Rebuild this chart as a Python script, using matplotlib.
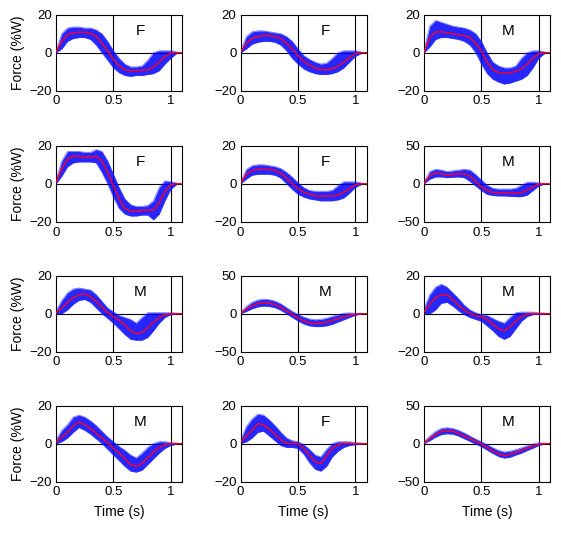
import numpy as np
import matplotlib
matplotlib.use("Agg")
import matplotlib.pyplot as plt

plt.rcParams['font.family'] = ['Liberation Sans', 'DejaVu Sans']

# time grids
t_mean = np.round(np.arange(0, 1.101, 0.05), 2)   # red mean curve, 0 .. 1.1
t_band = t_mean[:-1]                             # blue trace bundle, 0 .. 1.05

# panel layout (row by row)
sex_labels = ['F', 'F', 'M',
              'F', 'F', 'M',
              'M', 'M', 'M',
              'M', 'F', 'M']
y_limits = [20, 20, 20,
            20, 20, 50,
            20, 50, 20,
            20, 20, 50]

# mean curves (red)
mean_1 = [0.5, 6, 9.5, 10.5, 10.8, 10.8, 10.3, 8.5, 5, 1, -3.5, -7, -9, -9.5, -9.5, -9.3, -9, -7.5, -5, -2, -0.3, 0, 0]
mean_2 = [0.5, 5, 7.5, 8.5, 9, 9, 8.5, 7.5, 5, 2, -1.5, -4.5, -6.5, -8, -9, -9, -8.5, -7, -5, -2.5, -0.5, 0, 0]
mean_3 = [0.5, 8, 11, 11, 10.5, 10, 9.5, 9, 8, 5, 1, -5, -9, -10.5, -11, -10.5, -10, -8.5, -6, -3, -0.5, 0, 0]
mean_4 = [1, 8, 13, 14.5, 14.5, 14, 14, 14.5, 12, 6, -1, -8, -13, -14.5, -14.5, -14, -14, -14, -10, -4, -0.5, 0, 0]
mean_5 = [0.5, 5, 7, 7.5, 7.5, 7.5, 7, 5.5, 3, 0, -2.5, -4.5, -5.5, -6.5, -6.5, -6.5, -6.5, -6, -4.5, -2.5, -0.5, 0, 0]
mean_6 = [1, 11, 14, 13, 11.5, 12.5, 13, 13, 10, 3, -4, -9, -11.5, -12, -12, -12.5, -12.5, -12, -8, -4, -0.5, 0, 0]
mean_7 = [0.5, 3, 6, 8.5, 10, 10.5, 9, 6.5, 3.5, 0.5, -1.5, -3.5, -6, -9, -10.5, -10, -7.5, -4.5, -2, -0.5, 0, 0, 0]
mean_8 = [1, 6, 10.5, 13.5, 14.5, 14, 12, 8.5, 4, -1, -5.5, -9.5, -12, -13, -12.5, -11, -9, -6.5, -4, -2, -0.5, 0, 0]
mean_9 = [1, 5, 8.5, 10, 10, 7.5, 4.5, 2, 0, -1, -1.5, -3, -5.5, -8, -9, -7, -4, -1.5, -0.3, 0, 0, 0, 0]
mean_10 = [1, 3.5, 6, 9.5, 11.5, 10, 8, 5.5, 3, 0.5, -2.5, -5, -8, -11, -12, -10.5, -7.5, -4.5, -2, -0.5, 0, 0, 0]
mean_11 = [1, 4, 7, 10.5, 10, 7.5, 5, 2, 0, 0, 0, -2.5, -6, -9.5, -10.5, -6.5, -2.5, -0.5, 0, 0, 0, 0, 0]
mean_12 = [1, 7, 12, 16, 17, 16.5, 13.5, 10, 6.5, 3, -0.5, -5, -9.5, -13.5, -16, -14, -11.5, -9, -6, -3, -0.5, 0, 0]

# upper / lower envelope of the individual trials (blue)
upper_1 = [1, 10, 13, 13.5, 13.5, 13, 13, 12, 10, 6, 1, -3, -6, -7.5, -7.5, -7, -4, 0, 1, 1, 1, 0.5]
lower_1 = [0, 2, 6, 7.5, 8, 8, 7, 4, 0, -4, -8, -10.5, -12, -12.5, -12, -12, -11.5, -11, -9.5, -6, -3, -0.5]
upper_2 = [1, 8.5, 11, 11.5, 11.5, 11, 10.5, 10, 8.5, 6, 2, -1.5, -3.5, -5, -6, -5.5, -3, 0, 1, 1, 1, 0.5]
lower_2 = [0, 2, 4.5, 5.5, 6, 6, 5.5, 4, 1, -3, -6, -8.5, -10, -11, -11.5, -11.5, -11, -10, -8, -5, -2, -0.5]
upper_3 = [1.5, 14, 17, 16, 15, 14, 13.5, 13, 12, 10, 6, 0, -5, -7, -8, -8, -7, -3, 0, 1, 1, 0.5]
lower_3 = [0, 3, 7, 8, 8, 7.5, 7, 6, 4, 0, -6, -11, -14, -15.5, -16.5, -16, -15, -14, -12, -8, -3, -0.5]
upper_4 = [2, 12, 17, 17, 17, 16.5, 16.5, 18, 17, 12, 5, -2, -8, -11, -12, -12, -11.5, -9, -2, 1.5, 1, 0.5]
lower_4 = [0, 4, 9, 11, 11.5, 11.5, 11.5, 11, 6, 0, -7, -13, -16, -17, -17, -16.5, -16.5, -19, -16, -9, -3, -0.5]
upper_5 = [1, 7.5, 9.5, 10, 10, 9.5, 9, 8, 6, 3.5, 0.5, -2, -3.5, -4, -4, -4, -3.5, -1, 1, 1, 1, 0.5]
lower_5 = [0, 2.5, 4.5, 5, 5, 5, 4.5, 3, 0, -3, -5.5, -7, -8, -8.5, -9, -9, -9, -8.5, -7.5, -5, -2, -0.5]
upper_6 = [2, 16, 19, 18, 16, 17, 18, 19, 18, 12, 5, -2, -6, -7, -7, -7, -6, -2, 2, 2, 1, 0.5]
lower_6 = [0, 6, 9, 9, 8, 8.5, 9, 8, 3, -3, -9, -14, -15.5, -16, -16, -16.5, -17, -17, -15, -9, -3, -0.5]
upper_7 = [1.5, 7, 11, 13, 13.5, 13, 12.5, 10, 6.5, 3, 1, -1, -2, -3, -5, -2, 0.5, 0.5, 0.5, 0.5, 0.5, 0.3]
lower_7 = [0, 0, 2, 5, 7, 7.5, 6, 3, 0, -2.5, -5, -8, -11, -13.5, -14, -14, -12.5, -9, -5, -2, -0.5, -0.3]
upper_8 = [2, 9.5, 15, 18, 19, 18.5, 16.5, 13, 8, 3, -1, -4.5, -7, -8, -7.5, -6, -3.5, -1.5, 0.5, 1, 0.5, 0.3]
lower_8 = [0, 3, 6.5, 9, 10, 9.5, 8, 4.5, 0, -5, -9.5, -13.5, -16, -17, -17, -16, -14, -11, -8, -5, -2, -0.5]
upper_9 = [2.5, 10, 14, 15.5, 14, 11, 8, 4.5, 2, 0.5, -0.5, -1, -2.5, -4, -5, -2, 0.5, 0.8, 0.8, 0.8, 0.5, 0.3]
lower_9 = [0, 0, 2, 5.5, 6, 4, 1.5, -0.5, -2, -3, -4, -6.5, -9, -12, -13.5, -12, -8, -4, -1.5, -0.5, -0.3, -0.2]
upper_10 = [2, 7, 10, 14, 15, 14, 12, 9.5, 6.5, 3.5, 1, -1.5, -3.5, -6, -7.5, -5, -2, 0, 1, 1, 0.5, 0.3]
lower_10 = [0, 1, 3, 6, 8.5, 7, 5, 2.5, 0, -3, -6, -9, -12, -14.5, -15, -14, -11, -8, -5, -2.5, -1, -0.3]
upper_11 = [2, 9, 13, 15.5, 15, 12.5, 9.5, 6, 3, 1.5, 1, -0.5, -3, -6, -7, -3, 0, 1, 1, 1, 0.5, 0.3]
lower_11 = [0, 1, 3, 6, 6.5, 4, 1.5, -1, -2, -2, -2.5, -5.5, -10, -13.5, -14.5, -12, -7, -4, -2, -1, -0.5, -0.2]
upper_12 = [2, 10, 16, 20, 21, 20, 17.5, 14, 10, 6, 2.5, -1.5, -5.5, -9, -11, -10, -8, -5.5, -3, -0.5, 1, 0.3]
lower_12 = [0, 4, 8.5, 12, 13, 12.5, 10, 6.5, 3, -0.5, -4, -8.5, -13, -17, -19, -18, -15, -12.5, -9, -6, -2.5, -0.5]

means = [mean_1, mean_2, mean_3, mean_4, mean_5, mean_6,
         mean_7, mean_8, mean_9, mean_10, mean_11, mean_12]
uppers = [upper_1, upper_2, upper_3, upper_4, upper_5, upper_6,
          upper_7, upper_8, upper_9, upper_10, upper_11, upper_12]
lowers = [lower_1, lower_2, lower_3, lower_4, lower_5, lower_6,
          lower_7, lower_8, lower_9, lower_10, lower_11, lower_12]

fig = plt.figure(figsize=(5.61, 5.46), dpi=100)

col_left = [0.100, 0.429, 0.756]
row_bottom = [0.834, 0.594, 0.356, 0.118]
ax_w, ax_h = 0.2246, 0.139

for k in range(12):
    r, c = divmod(k, 3)
    ax = fig.add_axes([col_left[c], row_bottom[r], ax_w, ax_h])
    lim = y_limits[k]

    # reference lines
    ax.axhline(0, color='black', lw=0.8, zorder=1)
    ax.axvline(0.5, color='black', lw=0.8, zorder=1)
    ax.axvline(1.0, color='black', lw=0.8, zorder=1)

    # trial bundle
    ax.fill_between(t_band, lowers[k], uppers[k], color='#0000ff', alpha=0.85,
                    lw=0, zorder=2)
    ax.plot(t_band, uppers[k], color='#3030ff', lw=0.7, alpha=0.6, zorder=2)
    ax.plot(t_band, lowers[k], color='#3030ff', lw=0.7, alpha=0.6, zorder=2)

    # mean
    ax.plot(t_mean, means[k], color='#ff0020', lw=1.0, zorder=3)

    ax.text(0.67, 0.78, sex_labels[k], transform=ax.transAxes,
            ha='center', va='center', fontsize=11)

    ax.set_xlim(0, 1.1)
    ax.set_ylim(-lim, lim)
    ax.set_xticks([0, 0.5, 1])
    ax.set_xticklabels(['0', '0.5', '1'])
    ax.set_yticks([-lim, 0, lim])
    ax.tick_params(direction='in', top=True, right=True, length=2.5,
                   width=0.7, labelsize=9.5)
    ax.tick_params(axis='x', pad=3.5)
    ax.tick_params(axis='y', pad=3)
    for sp in ax.spines.values():
        sp.set_linewidth(0.8)

    if c == 0:
        ax.set_ylabel('Force (%W)', fontsize=10, labelpad=3)
    if r == 3:
        ax.set_xlabel('Time (s)', fontsize=10, labelpad=5)

fig.savefig('out.png', dpi=100)
